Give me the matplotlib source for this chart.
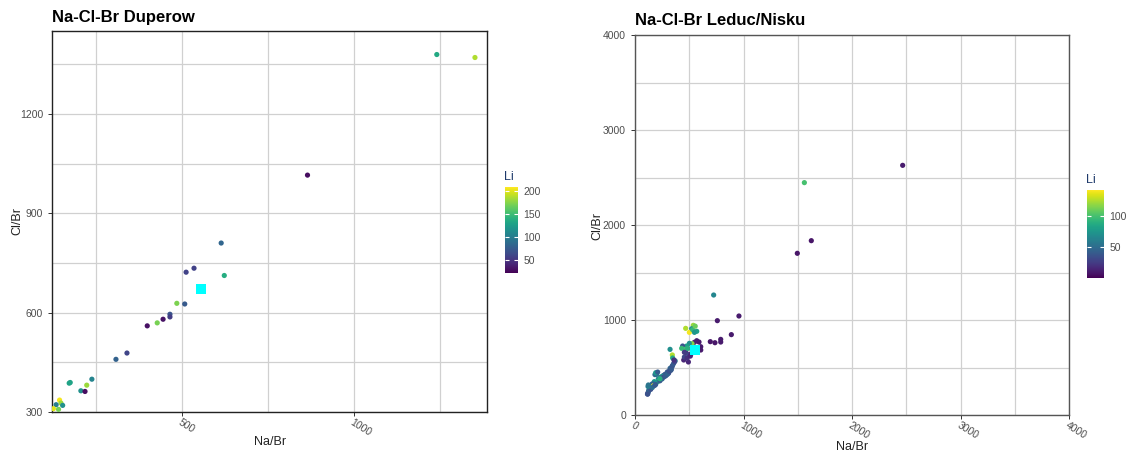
import matplotlib
matplotlib.use("Agg")
import matplotlib.pyplot as plt
from matplotlib.ticker import MultipleLocator, FixedLocator

plt.rcParams['font.family'] = ['Liberation Sans', 'DejaVu Sans']

# ---------------- Data: Duperow ----------------
dup_nabr = [614, 512, 535, 623, 485, 508, 465, 465, 445, 428, 399, 340, 308, 238,
            172, 175, 223, 206, 218, 144, 148, 134, 153, 141, 126, 1241, 1352, 865, 1392]
dup_clbr = [810, 722, 734, 712, 628, 626, 595, 587, 580, 569, 560, 478, 459, 399,
            387, 389, 381, 364, 362, 336, 327, 322, 320, 308, 310, 1379, 1370, 1015, 1455]
dup_li = [83, 59, 59, 137, 171, 74, 70, 55, 31, 170, 30, 60, 80, 106,
          130, 130, 180, 115, 28, 205, 180, 100, 115, 170, 200, 134, 186, 28, 25]

# ---------------- Data: Leduc/Nisku ----------------
led_nabr = [2467, 1561, 1496, 1625, 725, 759, 958, 888, 694, 737, 790, 790,
            537, 522, 569, 467, 501, 531, 555, 548,
            547, 569, 590, 606, 606, 580,
            525, 501, 476, 439, 461, 430, 470, 495, 449, 492, 516, 455, 480, 510, 520, 485, 455,
            323, 344, 347, 370, 341, 323, 330, 298, 310, 276, 290, 260, 246, 235, 224, 215,
            200, 184, 209, 195, 178, 170, 157, 150, 135, 172, 152, 140, 129, 120, 115, 125,
            145, 160, 180, 190, 230, 250, 265, 280, 300, 315, 335, 345, 355, 365, 120,
            191, 209, 230, 359, 117, 123]
led_clbr = [2628, 2446, 1702, 1835, 1263, 993, 1042, 846, 772, 761, 796, 768,
            944, 908, 881, 912, 870, 898, 935, 870,
            765, 782, 768, 719, 684, 700,
            751, 754, 726, 726, 691, 702, 656, 635, 579, 558, 642, 610, 600, 620, 700, 700, 660,
            691, 632, 600, 570, 509, 491, 470, 453, 440, 428, 420, 415, 404, 395, 369, 380,
            428, 425, 351, 340, 351, 330, 326, 300, 305, 309, 291, 280, 263, 235, 220, 250,
            270, 290, 310, 320, 360, 380, 400, 410, 430, 460, 480, 520, 540, 560, 300,
            445, 452, 382, 579, 221, 316]
led_li = [10, 100, 8, 8, 65, 10, 10, 10, 8, 8, 10, 10,
          120, 70, 80, 125, 140, 95, 110, 75,
          15, 12, 10, 10, 10, 12,
          115, 70, 80, 35, 100, 95, 20, 30, 15, 15, 20, 30, 20, 15, 30, 90, 25,
          70, 125, 85, 60, 35, 45, 40, 40, 35, 40, 35, 45, 75, 50, 45, 60,
          55, 50, 95, 70, 75, 60, 45, 50, 55, 140, 140, 40, 40, 30, 35, 45,
          35, 50, 45, 40, 40, 45, 35, 40, 45, 35, 40, 38, 40, 30, 60,
          75, 40, 90, 20, 35, 55]

# Reference (seawater) point
ref_nabr = [556]
ref_clbr = [672]
ref2_nabr = [550]
ref2_clbr = [681]

W, H = 1126, 453
fig = plt.figure(figsize=(W / 100, H / 100), dpi=100)

tick_col = '#4d4d4d'
grid_col = '#d0d0d0'


def frac(x0, y0, x1, y1):
    return [x0 / W, 1 - y1 / H, (x1 - x0) / W, (y1 - y0) / H]


def style_axes(ax, border):
    ax.set_axisbelow(True)
    ax.grid(True, which='both', color=grid_col, linewidth=0.9)
    for s in ax.spines.values():
        s.set_color(border)
        s.set_linewidth(1.0)
    ax.tick_params(which='major', length=3, color='#333333', labelcolor=tick_col,
                   labelsize=7.5, width=0.7)
    ax.tick_params(axis='x', which='major', pad=1)
    ax.tick_params(which='minor', length=0)
    for lab in ax.get_xticklabels():
        lab.set_rotation(-32)
        lab.set_ha('left')
        lab.set_va('top')
        lab.set_rotation_mode('anchor')


# ---------------- Left panel ----------------
ax1 = fig.add_axes(frac(52, 31, 487, 412))
sc1 = ax1.scatter(dup_nabr, dup_clbr, c=dup_li, cmap='viridis', vmin=22, vmax=208,
                  s=14, linewidths=0, zorder=3)
ax1.scatter(ref_nabr, ref_clbr, marker='s', s=48, color='#00ffff', linewidths=0, zorder=4)
ax1.set_xlim(122, 1387)
ax1.set_ylim(300, 1450)
ax1.xaxis.set_major_locator(FixedLocator([500, 1000]))
ax1.xaxis.set_minor_locator(FixedLocator([250, 750, 1250]))
ax1.yaxis.set_major_locator(FixedLocator([300, 600, 900, 1200]))
ax1.yaxis.set_minor_locator(FixedLocator([450, 750, 1050, 1350]))
style_axes(ax1, '#222222')
fig.text(270 / W, 1 - 442 / H, 'Na/Br', fontsize=9, color='#222222', ha='center', va='center')
fig.text(17 / W, 1 - 221 / H, 'Cl/Br', fontsize=9, color='#222222', ha='center', va='center',
         rotation=90)
fig.text(52 / W, 1 - 22 / H, 'Na-Cl-Br Duperow', fontsize=12, fontweight='bold',
         ha='left', va='baseline', color='black')

cax1 = fig.add_axes(frac(505, 187, 518, 273))
cb1 = fig.colorbar(sc1, cax=cax1)
cb1.outline.set_visible(False)
cb1.set_ticks([50, 100, 150, 200])
cax1.tick_params(direction='in', color='white', length=3, width=0.8, left=True, right=True,
                 labelcolor=tick_col, labelsize=7.5, pad=4)
fig.text(504 / W, 1 - 180 / H, 'Li', fontsize=9, color='#1f3a6b', ha='left', va='baseline')

# ---------------- Right panel ----------------
ax2 = fig.add_axes(frac(635, 35, 1069, 415))
sc2 = ax2.scatter(led_nabr, led_clbr, c=led_li, cmap='viridis', vmin=0, vmax=142,
                  s=14, linewidths=0, zorder=3)
ax2.scatter(ref2_nabr, ref2_clbr, marker='s', s=55, color='#00ffff', linewidths=0, zorder=4)
ax2.set_xlim(0, 4000)
ax2.set_ylim(0, 4000)
ax2.xaxis.set_major_locator(MultipleLocator(1000))
ax2.xaxis.set_minor_locator(MultipleLocator(500))
ax2.yaxis.set_major_locator(MultipleLocator(1000))
ax2.yaxis.set_minor_locator(MultipleLocator(500))
style_axes(ax2, '#555555')
fig.text(852 / W, 1 - 447 / H, 'Na/Br', fontsize=9, color='#222222', ha='center', va='center')
fig.text(597 / W, 1 - 226 / H, 'Cl/Br', fontsize=9, color='#222222', ha='center', va='center',
         rotation=90)
fig.text(635 / W, 1 - 25 / H, 'Na-Cl-Br Leduc/Nisku', fontsize=12, fontweight='bold',
         ha='left', va='baseline', color='black')

cax2 = fig.add_axes(frac(1087, 190, 1104, 278))
cb2 = fig.colorbar(sc2, cax=cax2)
cb2.outline.set_visible(False)
cb2.set_ticks([50, 100])
cax2.tick_params(direction='in', color='white', length=3, width=0.8, left=True, right=True,
                 labelcolor=tick_col, labelsize=7.5, pad=4)
fig.text(1086 / W, 1 - 183 / H, 'Li', fontsize=9, color='#1f3a6b', ha='left', va='baseline')

fig.savefig('out.png', dpi=100)
